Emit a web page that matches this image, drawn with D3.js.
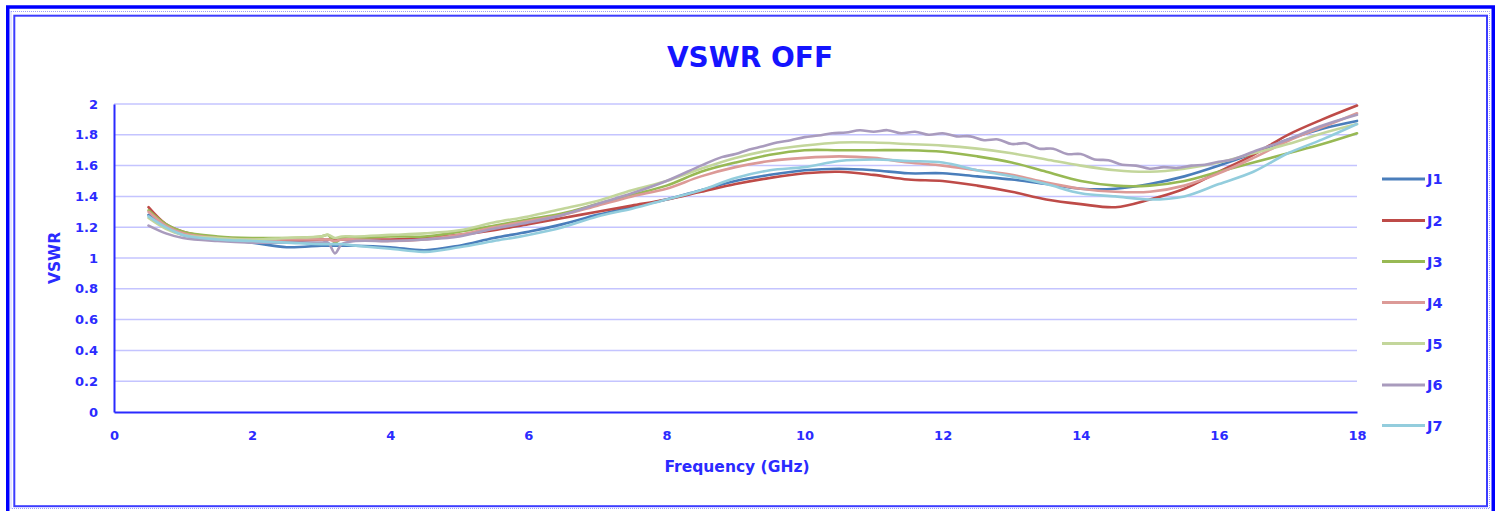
<!DOCTYPE html>
<html>
<head>
<meta charset="utf-8">
<script src="https://cdn.jsdelivr.net/npm/d3@7"></script>
<style>
  html, body { margin: 0; padding: 0; background: #ffffff; }
  svg { display: block; }
</style>
</head>
<body>
<script>
// ---------- data ----------
const freq = [0.5, 0.75, 1, 1.5, 2, 2.5, 3, 3.1, 3.2, 3.3, 3.5, 4, 4.5, 5, 5.5, 6, 6.5, 7, 7.5, 8, 8.5, 9, 9.5, 10, 10.5, 11, 11.5, 12, 12.5, 13, 13.5, 14, 14.5, 15, 15.5, 16, 16.5, 17, 17.5, 18];
const J1 = [1.28, 1.20, 1.15, 1.12, 1.10, 1.07, 1.08, 1.08, 1.08, 1.08, 1.08, 1.07, 1.05, 1.08, 1.13, 1.17, 1.22, 1.28, 1.33, 1.38, 1.44, 1.50, 1.54, 1.57, 1.58, 1.57, 1.55, 1.55, 1.53, 1.51, 1.48, 1.45, 1.45, 1.48, 1.53, 1.60, 1.68, 1.77, 1.84, 1.89];
const J2 = [1.33, 1.22, 1.17, 1.13, 1.12, 1.11, 1.12, 1.12, 1.12, 1.12, 1.12, 1.12, 1.13, 1.15, 1.18, 1.22, 1.26, 1.30, 1.34, 1.38, 1.43, 1.48, 1.52, 1.55, 1.56, 1.54, 1.51, 1.50, 1.47, 1.43, 1.38, 1.35, 1.33, 1.38, 1.45, 1.56, 1.67, 1.80, 1.90, 1.99];
const J3 = [1.31, 1.22, 1.17, 1.14, 1.13, 1.13, 1.14, 1.15, 1.10, 1.13, 1.13, 1.14, 1.14, 1.17, 1.21, 1.25, 1.29, 1.35, 1.41, 1.47, 1.56, 1.62, 1.67, 1.70, 1.70, 1.70, 1.70, 1.69, 1.66, 1.62, 1.56, 1.50, 1.47, 1.47, 1.50, 1.56, 1.62, 1.68, 1.74, 1.81];
const J4 = [1.30, 1.21, 1.16, 1.13, 1.12, 1.12, 1.12, 1.12, 1.11, 1.12, 1.12, 1.11, 1.12, 1.15, 1.20, 1.24, 1.28, 1.34, 1.40, 1.45, 1.53, 1.59, 1.63, 1.65, 1.66, 1.65, 1.62, 1.60, 1.57, 1.54, 1.49, 1.45, 1.43, 1.43, 1.47, 1.55, 1.65, 1.76, 1.85, 1.94];
const J5 = [1.26, 1.19, 1.15, 1.13, 1.12, 1.13, 1.14, 1.15, 1.13, 1.14, 1.14, 1.15, 1.16, 1.18, 1.23, 1.27, 1.32, 1.37, 1.44, 1.50, 1.58, 1.65, 1.70, 1.73, 1.75, 1.75, 1.74, 1.73, 1.71, 1.68, 1.64, 1.60, 1.57, 1.56, 1.58, 1.62, 1.68, 1.74, 1.81, 1.87];
// J6 is sampled more finely where its trace ripples
const freqJ6 = [0.5, 0.75, 1, 1.5, 2, 2.5, 3, 3.1, 3.2, 3.3, 3.5, 4, 4.5, 5, 5.5, 6, 6.5, 7, 7.5, 8, 8.5,
  8.8, 9.0, 9.2, 9.4, 9.6, 9.8, 10.0, 10.2, 10.4, 10.6, 10.8, 11.0, 11.2, 11.4, 11.6, 11.8, 12.0, 12.2, 12.4,
  12.6, 12.8, 13.0, 13.2, 13.4, 13.6, 13.8, 14.0, 14.2, 14.4, 14.6, 14.8, 15.0, 15.2, 15.4, 15.6, 15.8, 16.0, 16.2,
  16.5, 17, 17.5, 18];
const J6 = [1.21, 1.16, 1.13, 1.11, 1.10, 1.10, 1.10, 1.10, 1.03, 1.09, 1.11, 1.11, 1.12, 1.14, 1.19, 1.23, 1.28, 1.35, 1.42, 1.50, 1.60,
  1.655, 1.675, 1.705, 1.725, 1.75, 1.765, 1.785, 1.795, 1.81, 1.815, 1.83, 1.82, 1.83, 1.81, 1.82, 1.80, 1.81, 1.79, 1.79,
  1.765, 1.77, 1.74, 1.745, 1.71, 1.71, 1.675, 1.675, 1.64, 1.635, 1.605, 1.60, 1.58, 1.59, 1.585, 1.60, 1.605, 1.625, 1.64,
  1.69, 1.77, 1.86, 1.93];
const J7 = [1.27, 1.20, 1.15, 1.12, 1.11, 1.10, 1.09, 1.09, 1.09, 1.09, 1.08, 1.06, 1.04, 1.07, 1.11, 1.15, 1.20, 1.27, 1.32, 1.38, 1.44, 1.52, 1.57, 1.59, 1.63, 1.64, 1.63, 1.62, 1.57, 1.53, 1.48, 1.42, 1.40, 1.38, 1.40, 1.48, 1.56, 1.68, 1.77, 1.87];
const seriesNames = ["J1", "J2", "J3", "J4", "J5", "J6", "J7"];
const seriesFreqs = [freq, freq, freq, freq, freq, freqJ6, freq];
const seriesValues = [J1, J2, J3, J4, J5, J6, J7];
const seriesColors = ["#4a7ebb", "#be4b48", "#98b954", "#dc9a97", "#c3d69b", "#a99bbd", "#93cddd"];
const xTicks = [0, 2, 4, 6, 8, 10, 12, 14, 16, 18];
const yTicks = [0, 0.2, 0.4, 0.6, 0.8, 1, 1.2, 1.4, 1.6, 1.8, 2];
const titleText = "VSWR OFF";
const xTitle = "Frequency (GHz)";
const yTitle = "VSWR";

// ---------- layout ----------
const W = 1504, H = 511;
const plot = { left: 114, right: 1357, top: 104, bottom: 412 };
const textBlue = "#2b2bff";
const font = "'DejaVu Sans', 'Liberation Sans', sans-serif";

const svg = d3.select("body").append("svg").attr("width", W).attr("height", H);

// frame
svg.append("rect").attr("x", 7.75).attr("y", 7).attr("width", 1485.5).attr("height", 520)
  .attr("fill", "none").attr("stroke", "#0000ff").attr("stroke-width", 3.5);
svg.append("rect").attr("x", 11).attr("y", 11.5).attr("width", 1478.5).attr("height", 497)
  .attr("fill", "none").attr("stroke", "#9a9aff").attr("stroke-width", 1).attr("stroke-dasharray", "1,1");
svg.append("rect").attr("x", 14.3).attr("y", 15.7).attr("width", 1472.7).attr("height", 490.5)
  .attr("fill", "none").attr("stroke", "#3c3cff").attr("stroke-width", 2);

const x = d3.scaleLinear().domain([0, 18]).range([plot.left, plot.right]);
const y = d3.scaleLinear().domain([0, 2]).range([plot.bottom, plot.top]);

// gridlines
svg.append("g").selectAll("line").data(yTicks.filter(v => v > 0)).join("line")
  .attr("x1", plot.left).attr("x2", plot.right)
  .attr("y1", d => y(d)).attr("y2", d => y(d))
  .attr("stroke", "#c4c4ff").attr("stroke-width", 1.5);

// axes
const fmt = v => String(+v.toFixed(1));
const yAxis = svg.append("g").attr("transform", `translate(${plot.left},0)`)
  .call(d3.axisLeft(y).tickValues(yTicks).tickSize(0).tickPadding(16).tickFormat(fmt));
const xAxis = svg.append("g").attr("transform", `translate(0,${plot.bottom})`)
  .call(d3.axisBottom(x).tickValues(xTicks).tickSize(0).tickPadding(19).tickFormat(fmt));
[yAxis, xAxis].forEach(g => {
  g.attr("color", textBlue);
  g.select(".domain").attr("stroke", "#2a2aff").attr("stroke-width", 2);
  g.selectAll("text").attr("font-family", font).attr("font-weight", "bold").attr("font-size", 13).attr("fill", textBlue);
});

// lines
const line = d3.line().x(d => x(d[0])).y(d => y(d[1])).curve(d3.curveCatmullRom.alpha(0.5));
const lineG = svg.append("g");
seriesValues.forEach((vals, i) => {
  const pts = seriesFreqs[i].map((f, k) => [f, vals[k]]);
  lineG.append("path").datum(pts).attr("d", line)
    .attr("fill", "none").attr("stroke", seriesColors[i]).attr("stroke-width", 2.6)
    .attr("stroke-linejoin", "round").attr("stroke-linecap", "round");
});

// titles
svg.append("text").attr("x", 750).attr("y", 67).attr("text-anchor", "middle")
  .attr("font-family", font).attr("font-weight", "bold").attr("font-size", 28).attr("fill", "#1414ff")
  .text(titleText);
svg.append("text").attr("x", 737).attr("y", 472).attr("text-anchor", "middle")
  .attr("font-family", font).attr("font-weight", "bold").attr("font-size", 15.5).attr("fill", textBlue)
  .text(xTitle);
svg.append("text").attr("transform", "translate(60,258) rotate(-90)").attr("text-anchor", "middle")
  .attr("font-family", font).attr("font-weight", "bold").attr("font-size", 15.5).attr("fill", textBlue)
  .text(yTitle);

// legend
const legY = [179, 220.5, 261.5, 302.5, 343.5, 385, 425.5];
const leg = svg.append("g");
seriesNames.forEach((name, i) => {
  leg.append("line").attr("x1", 1382).attr("x2", 1425).attr("y1", legY[i]).attr("y2", legY[i])
    .attr("stroke", seriesColors[i]).attr("stroke-width", 3);
  leg.append("text").attr("x", 1427).attr("y", legY[i]).attr("dy", "0.36em")
    .attr("font-family", font).attr("font-weight", "bold").attr("font-size", 14.5).attr("fill", textBlue)
    .text(name);
});
</script>
</body>
</html>
